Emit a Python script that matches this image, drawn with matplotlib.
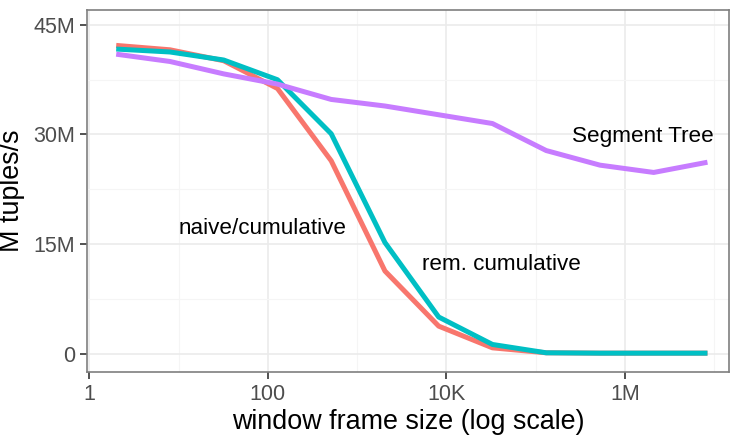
import matplotlib
matplotlib.use("Agg")
import matplotlib.pyplot as plt
import numpy as np
from matplotlib.ticker import FixedLocator, FixedFormatter

# ---- data ----
window_sizes = [2, 8, 32, 128, 512, 2048, 8192, 32768, 131072, 524288, 2097152, 8388608]
naive_cumulative = [42.2, 41.6, 40.1, 36.3, 26.4, 11.3, 3.75, 0.78, 0.1, 0.05, 0.05, 0.05]
rem_cumulative = [41.7, 41.3, 40.2, 37.5, 30.1, 15.2, 5.0, 1.24, 0.1, 0.05, 0.05, 0.05]
segment_tree = [41.0, 40.0, 38.3, 36.9, 34.8, 33.9, 32.7, 31.5, 27.8, 25.8, 24.8, 26.2]

x_ticks = [1, 100, 1e4, 1e6]
x_tick_labels = ["1", "100", "10K", "1M"]
x_minor = [10, 1e3, 1e5, 1e7]
y_ticks = [0, 15, 30, 45]
y_tick_labels = ["0", "15M", "30M", "45M"]
y_minor = [7.5, 22.5, 37.5]

labels = ["naive/cumulative", "rem. cumulative", "Segment Tree"]
label_pos = [(87, 17.06), (41700, 12.2), (1.6e6, 29.7)]

colors = ["#F8766D", "#00BFC4", "#C77CFF"]

plt.rcParams['font.family'] = ['Liberation Sans', 'DejaVu Sans']

fig = plt.figure(figsize=(7.39, 4.40), dpi=100)
ax = fig.add_axes([87/739, 1 - 371.7/440, (729-87)/739, (371.7-10)/440])

for series, c in zip([naive_cumulative, rem_cumulative, segment_tree], colors):
    ax.plot(window_sizes, series, color=c, lw=3.6, solid_capstyle='butt',
            solid_joinstyle='round', zorder=3)

for txt, (tx, ty) in zip(labels, label_pos):
    ax.text(tx, ty, txt, ha='center', va='center', fontsize=16.2, color='black', zorder=4)

ax.set_xscale('log')
ax.set_xlim(10**-0.026, 10**7.165)
ax.set_ylim(-2.49, 47.05)

ax.xaxis.set_major_locator(FixedLocator(x_ticks))
ax.xaxis.set_major_formatter(FixedFormatter(x_tick_labels))
ax.xaxis.set_minor_locator(FixedLocator(x_minor))
ax.xaxis.set_minor_formatter(FixedFormatter([""] * len(x_minor)))
ax.yaxis.set_major_locator(FixedLocator(y_ticks))
ax.yaxis.set_major_formatter(FixedFormatter(y_tick_labels))
ax.yaxis.set_minor_locator(FixedLocator(y_minor))

ax.grid(True, which='major', color='#EBEBEB', lw=1.2, zorder=0)
ax.grid(True, which='minor', color='#F5F5F5', lw=0.8, zorder=0)
ax.set_axisbelow(True)

ax.tick_params(which='major', length=4.9, width=1.2, color='#333333',
               labelsize=15.5, labelcolor='#4D4D4D', pad=3.9)
ax.tick_params(which='minor', length=0)

for s in ax.spines.values():
    s.set_color('#7F7F7F')
    s.set_linewidth(1.2)

ax.set_xlabel("window frame size (log scale)", fontsize=19.4, color='black', labelpad=3)
ax.set_ylabel("M tuples/s", fontsize=19.4, color='black', labelpad=6)

fig.savefig("out.png", dpi=100)
